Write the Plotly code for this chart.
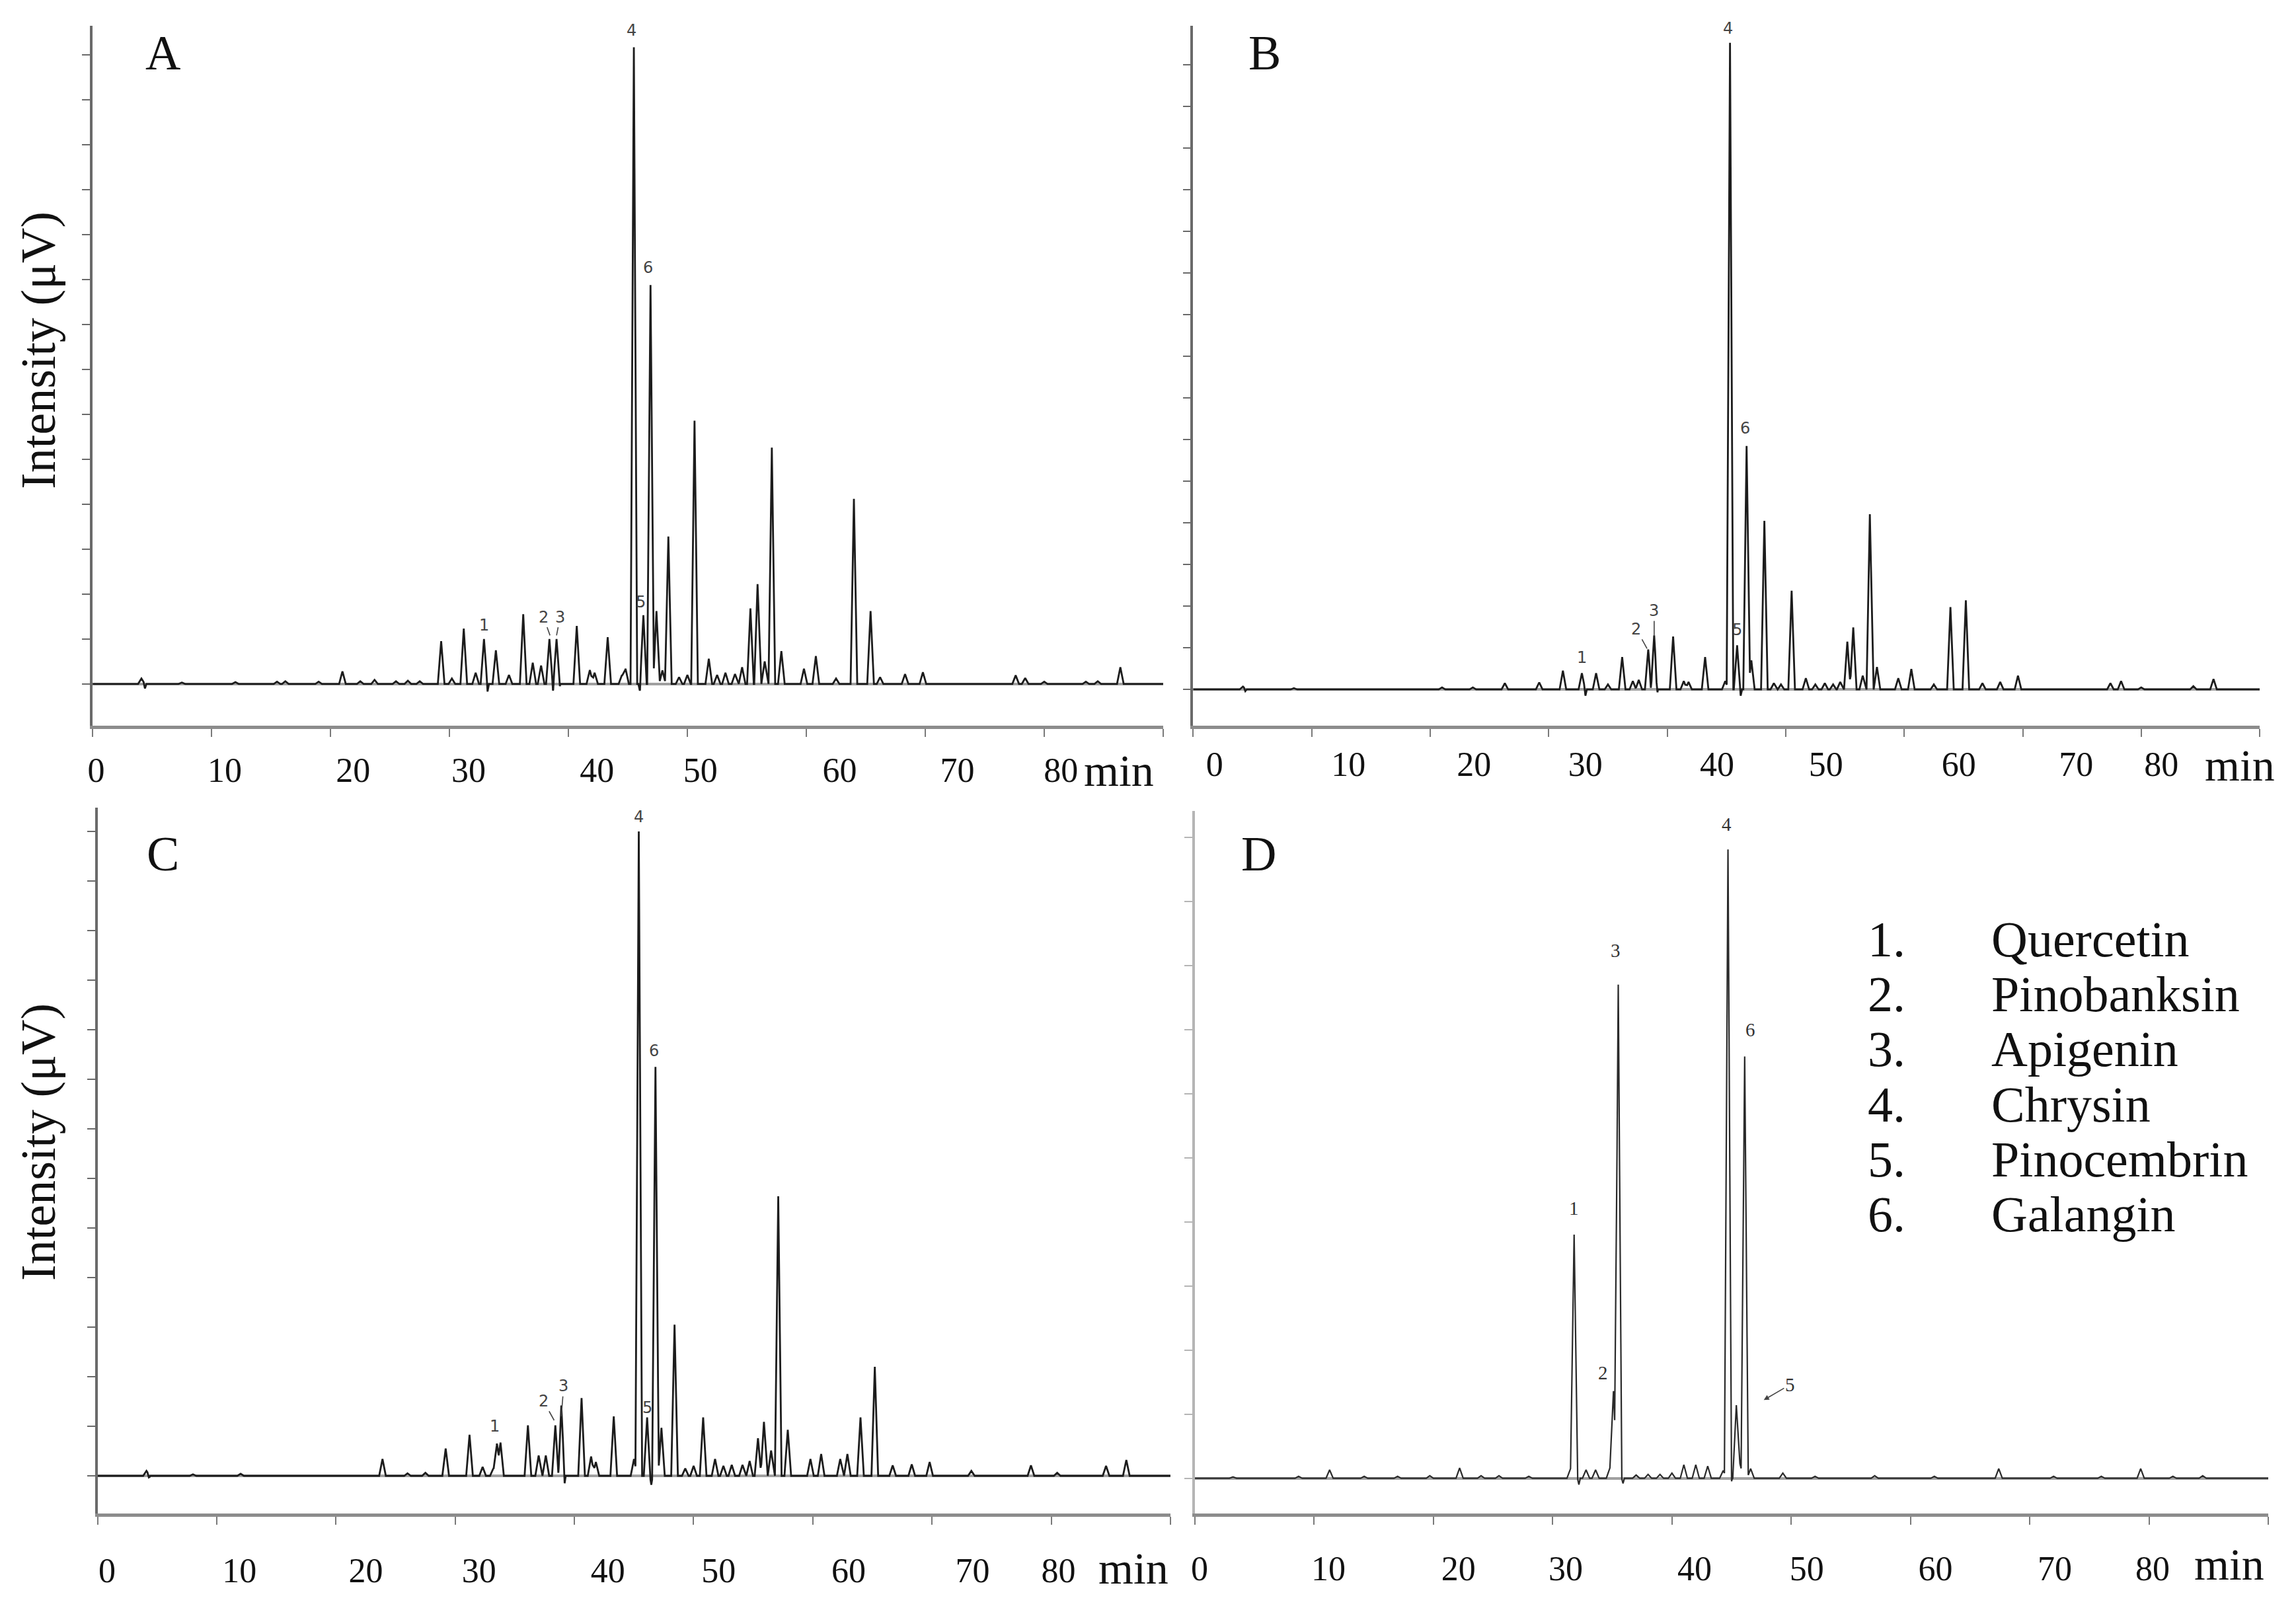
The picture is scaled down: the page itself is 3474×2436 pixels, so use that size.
import plotly.graph_objects as go

# ---------------- data (retention time in min along the drawn axis, intensity in axis-tick units) -------------
A_t = [4.1, 7.5, 12.0, 15.5, 16.2, 19.0, 21.0, 22.5, 23.7, 25.5,
       26.5, 27.5, 29.3, 30.2, 31.2, 32.2, 32.9, 33.9, 35.0, 36.2,
       37.0, 37.7, 38.4, 39.0, 40.7, 41.8, 42.2, 43.3, 44.5, 44.8,
       45.5, 46.3, 46.9, 47.4, 47.9, 48.4, 49.3, 50.0, 50.6, 51.8,
       52.5, 53.2, 54.0, 54.6, 55.3, 55.9, 56.5, 57.1, 57.9, 59.8,
       60.8, 62.5, 64.0, 65.4, 66.2, 68.3, 69.8, 77.6, 78.4, 80.0,
       83.5, 84.5, 86.4]
A_h = [0.12, 0.03, 0.04, 0.05, 0.06, 0.05, 0.28, 0.06, 0.09, 0.06,
       0.07, 0.06, 0.95, 0.12, 1.23, 0.25, 1.00, 0.75, 0.20, 1.55,
       0.47, 0.41, 1.00, 1.00, 1.29, 0.31, 0.25, 1.04, 0.20, 0.34,
       14.17, 1.53, 8.88, 1.62, 0.30, 3.28, 0.15, 0.20, 5.86, 0.56,
       0.20, 0.25, 0.22, 0.37, 1.68, 2.22, 0.50, 5.26, 0.73, 0.34,
       0.62, 0.12, 4.12, 1.62, 0.15, 0.22, 0.26, 0.19, 0.13, 0.05,
       0.05, 0.06, 0.37]
A_dip_t = [4.4, 33.2, 38.7, 39.2, 46.0]
A_dip_h = [-0.10, -0.17, -0.15, -0.15, -0.15]

B_t = [4.2, 8.5, 21.0, 23.6, 26.3, 29.2, 31.2, 32.8, 34.0, 35.0,
       36.2, 37.1, 37.6, 38.4, 38.9, 40.5, 41.4, 41.8, 43.2, 44.9,
       45.3, 45.9, 46.7, 47.1, 48.2, 49.0, 49.6, 50.5, 51.7, 52.5,
       53.3, 54.0, 54.6, 55.2, 55.7, 56.5, 57.1, 57.7, 59.5, 60.6,
       62.5, 63.9, 65.2, 66.6, 68.1, 69.6, 77.4, 78.3, 80.0, 84.4,
       86.1]
B_h = [0.07, 0.03, 0.05, 0.05, 0.15, 0.17, 0.45, 0.39, 0.39, 0.12,
       0.78, 0.20, 0.23, 0.96, 1.30, 1.27, 0.20, 0.18, 0.78, 0.20,
       15.53, 1.06, 5.85, 0.70, 4.05, 0.15, 0.12, 2.37, 0.27, 0.12,
       0.15, 0.12, 0.18, 1.15, 1.49, 0.33, 4.21, 0.54, 0.27, 0.49,
       0.12, 1.98, 2.14, 0.15, 0.18, 0.33, 0.15, 0.20, 0.05, 0.08,
       0.25]
B_dip_t = [4.4, 33.1, 38.6, 39.1, 46.2]
B_dip_h = [-0.06, -0.15, -0.20, -0.20, -0.15]

C_t = [4.1, 8.0, 12.0, 23.9, 26.0, 27.5, 29.2, 31.2, 32.3, 33.2,
       33.5, 33.8, 36.1, 37.0, 37.6, 38.4, 38.9, 40.6, 41.4, 41.8,
       43.3, 45.0, 45.4, 46.1, 46.8, 47.3, 48.4, 49.3, 50.0, 50.8,
       51.8, 52.5, 53.2, 54.1, 54.7, 55.4, 55.9, 56.5, 57.1, 57.9,
       59.8, 60.7, 62.3, 62.9, 64.0, 65.2, 66.7, 68.3, 69.8, 73.3,
       78.3, 80.5, 84.6, 86.3]
C_h = [0.10, 0.03, 0.04, 0.34, 0.05, 0.06, 0.55, 0.83, 0.18, 0.15,
       0.65, 0.67, 1.02, 0.41, 0.41, 1.02, 1.42, 1.57, 0.39, 0.28,
       1.20, 0.34, 13.00, 1.18, 8.25, 0.97, 3.05, 0.15, 0.20, 1.18,
       0.34, 0.20, 0.22, 0.22, 0.30, 0.76, 1.09, 0.51, 5.64, 0.93,
       0.34, 0.44, 0.34, 0.44, 1.18, 2.20, 0.21, 0.23, 0.28, 0.10,
       0.21, 0.06, 0.20, 0.32]
C_dip_t = [4.3, 33.65, 38.65, 39.15, 46.45]
C_dip_h = [-0.06, -0.20, -0.20, -0.20, -0.18]

D_t = [3.2, 8.7, 11.3, 14.2, 17.0, 19.7, 22.2, 24.0, 25.5, 28.0,
       31.5, 31.8, 32.8, 33.6, 34.8, 35.1, 35.5, 37.0, 38.0, 39.0,
       40.0, 41.0, 42.0, 43.0, 44.3, 44.7, 45.4, 45.7, 46.1, 46.6,
       49.3, 52.0, 57.0, 62.0, 67.4, 72.0, 76.0, 79.3, 82.0, 84.5]
D_h = [0.02, 0.03, 0.13, 0.03, 0.03, 0.04, 0.16, 0.04, 0.04, 0.03,
       0.15, 3.80, 0.13, 0.13, 0.16, 1.36, 7.70, 0.05, 0.06, 0.06,
       0.08, 0.21, 0.21, 0.19, 0.12, 9.81, 1.14, 0.23, 6.58, 0.15,
       0.08, 0.03, 0.04, 0.03, 0.15, 0.03, 0.03, 0.15, 0.03, 0.04]
D_dip_t = [32.2, 35.9, 44.95]
D_dip_h = [-0.10, -0.08, -0.08]

# x tick labels as printed on the figure (label centres, same time axis)
tick_text = ["0", "10", "20", "30", "40", "50", "60", "70", "80"]
A_lbl = [0.3, 11.1, 21.9, 31.6, 42.4, 51.1, 62.8, 72.7, 81.4]
B_lbl = [1.8, 13.1, 23.7, 33.1, 44.2, 53.4, 64.6, 74.5, 81.7]
C_lbl = [0.8, 11.9, 22.5, 32.0, 42.8, 52.1, 63.0, 73.4, 80.6]
D_lbl = [0.4, 11.2, 22.1, 31.1, 41.9, 51.3, 62.1, 72.1, 80.3]
min_pos = [86.3, 88.3, 86.9, 86.7]

# peak number labels
peak_names = ["1", "2", "3", "4", "5", "6"]
A_pk_x = [32.9, 37.9, 39.3, 45.3, 46.1, 46.7]
A_pk_y = [1.31, 1.49, 1.49, 14.54, 1.82, 9.26]
B_pk_x = [32.8, 37.4, 38.9, 45.1, 45.9, 46.6]
B_pk_y = [0.76, 1.45, 1.89, 15.88, 1.43, 6.28]
C_pk_x = [33.3, 37.4, 39.1, 45.4, 46.1, 46.7]
C_pk_y = [1.00, 1.51, 1.81, 13.29, 1.37, 8.58]
D_pk_x = [31.8, 34.2, 35.3, 44.6, 49.9, 46.6]
D_pk_y = [4.21, 1.65, 8.23, 10.20, 1.46, 7.00]
# leader-line tips: (panel, label index, x, y)
leaders = [(0, 1, 38.45, 1.08), (0, 2, 39.0, 1.08),
           (1, 1, 38.3, 0.98), (1, 2, 38.9, 1.30),
           (2, 1, 38.3, 1.12), (2, 2, 38.9, 1.20),
           (3, 4, 47.7, 1.22)]

legend_nums = ["1.", "2.", "3.", "4.", "5.", "6."]
compounds = ["Quercetin", "Pinobanksin", "Apigenin", "Chrysin", "Pinocembrin", "Galangin"]
panel_letters = ["A", "B", "C", "D"]
y_title = "Intensity (\u03bcV)"

# ---------------- layout geometry (pixels) ----------------
W, H = 3474, 2436
SERIF = "Liberation Serif, Times New Roman, serif"


def fx(p):
    return p / W


def fy(p):
    return 1 - p / H


panels = [
    dict(x0=132.5, x1=1756, y0=39, y1=1098, yr=[-0.93, 14.65], lab=A_lbl, tl=22, mo=68,
         t=A_t, h=A_h, dt=A_dip_t, dh=A_dip_h, px=A_pk_x, py=A_pk_y, ycol="#6a6a6a"),
    dict(x0=1801.5, x1=3419, y0=39, y1=1098, yr=[-0.87, 15.94], lab=B_lbl, tl=13, mo=60,
         t=B_t, h=B_h, dt=B_dip_t, dh=B_dip_h, px=B_pk_x, py=B_pk_y, ycol="#6a6a6a"),
    dict(x0=140, x1=1767, y0=1222, y1=2290, yr=[-0.76, 13.48], lab=C_lbl, tl=41, mo=83,
         t=C_t, h=C_h, dt=C_dip_t, dh=C_dip_h, px=C_pk_x, py=C_pk_y, ycol="#6a6a6a"),
    dict(x0=1804, x1=3432, y0=1227, y1=2290, yr=[-0.55, 10.41], lab=D_lbl, tl=38, mo=77,
         t=D_t, h=D_h, dt=D_dip_t, dh=D_dip_h, px=D_pk_x, py=D_pk_y, ycol="#b5b5b5"),
]


def chrom(times, heights, dts, dhs, w, wd, end=90.0):
    pts = {0.0, end}
    for t in times:
        pts |= {t - w, t, t + w}
    for t in dts:
        pts |= {t - wd, t, t + wd}
    xs = sorted(p for p in pts if 0.0 <= p <= end)
    ys = []
    for x in xs:
        v = 0.0
        for t, hh in zip(times, heights):
            v += hh * max(0.0, 1 - abs(x - t) / w)
        for t, hh in zip(dts, dhs):
            v += hh * max(0.0, 1 - abs(x - t) / wd)
        ys.append(v)
    return xs, ys


fig = go.Figure()
annotations = []
layout = dict(width=W, height=H, margin=dict(l=0, r=0, t=0, b=0),
              paper_bgcolor="white", plot_bgcolor="white", showlegend=False)

for i, p in enumerate(panels):
    n = i + 1
    xa = "x" if n == 1 else f"x{n}"
    ya = "y" if n == 1 else f"y{n}"
    xs, ys = chrom(p["t"], p["h"], p["dt"], p["dh"], 0.28 if n < 4 else 0.30, 0.12)
    fig.add_trace(go.Scatter(x=xs, y=ys, mode="lines", xaxis=xa, yaxis=ya,
                             line=dict(color="#1c1c1c" if n < 4 else "#2a2a2a",
                                       width=2.8 if n < 4 else 2.2),
                             hoverinfo="skip"))
    # label axis carrier
    lab_ax = f"x{n + 4}"
    fig.add_trace(go.Scatter(x=[], y=[], xaxis=lab_ax, yaxis=ya, hoverinfo="skip"))

    dom_x = [fx(p["x0"]), fx(p["x1"])]
    dom_y = [fy(p["y1"]), fy(p["y0"])]
    layout[f"xaxis{'' if n == 1 else n}"] = dict(
        domain=dom_x, anchor=ya, range=[0, 90], tickvals=list(range(0, 91, 10)),
        showticklabels=False, ticks="outside", ticklen=12, tickwidth=2, tickcolor="#7a7a7a",
        showline=True, linecolor="#8c8c8c", linewidth=5, showgrid=False, zeroline=False)
    layout[f"yaxis{'' if n == 1 else n}"] = dict(
        domain=dom_y, anchor=xa, range=p["yr"], tick0=0, dtick=1,
        showticklabels=False, ticks="outside", ticklen=12, tickwidth=2, tickcolor=p["ycol"],
        showline=True, linecolor=p["ycol"], linewidth=3.5, showgrid=False,
        zeroline=True, zerolinecolor="#a0a0a0", zerolinewidth=4)
    layout[f"xaxis{n + 4}"] = dict(
        overlaying=xa, anchor=ya, range=[0, 90], tickvals=p["lab"], ticktext=tick_text,
        ticks="outside", ticklen=p["tl"], tickcolor="rgba(0,0,0,0)", showline=False,
        showgrid=False, zeroline=False, tickfont=dict(family=SERIF, size=52, color="#111"))

    # "min" unit label
    annotations.append(dict(x=min_pos[i], xref=xa, y=fy(p["y1"] + p["mo"]),
                            yref="paper", text="min", showarrow=False, xanchor="center",
                            yanchor="middle", font=dict(family=SERIF, size=68, color="#111")))
    # peak labels
    pk_font = dict(family="DejaVu Sans, sans-serif", size=24, color="#444") if n < 4 else \
        dict(family=SERIF, size=29, color="#333")
    lead = {j: (tx, ty) for (pi, j, tx, ty) in leaders if pi == i}
    for j, name in enumerate(peak_names):
        if j in lead:
            tx, ty = lead[j]
            annotations.append(dict(x=tx, y=ty, xref=xa, yref=ya, ax=p["px"][j], ay=p["py"][j],
                                    axref=xa, ayref=ya, text=name, showarrow=True,
                                    arrowhead=2 if n == 4 else 0, arrowsize=1, arrowwidth=1.6,
                                    arrowcolor="#444", standoff=0, font=pk_font))
        else:
            annotations.append(dict(x=p["px"][j], y=p["py"][j], xref=xa, yref=ya, text=name,
                                    xanchor="center", yanchor="middle",
                                    showarrow=False, font=pk_font))

# panel letters
letter_pos = [(239, 80), (1910, 80), (239, 1292), (1901, 1292)]
for L, (lx, ly) in zip(panel_letters, letter_pos):
    annotations.append(dict(x=fx(lx), y=fy(ly), xref="paper", yref="paper", text=L,
                            xanchor="center", yanchor="middle",
                            showarrow=False, font=dict(family=SERIF, size=74, color="#111")))

# y titles
for ty in (530, 1728):
    annotations.append(dict(x=fx(50), y=fy(ty), xref="paper", yref="paper", text=y_title,
                            textangle=-90, showarrow=False, xanchor="center", yanchor="middle",
                            font=dict(family=SERIF, size=74, color="#111")))

# compound key in panel D
for k, (num, name) in enumerate(zip(legend_nums, compounds)):
    yy = fy(1421 + 83.2 * k)
    annotations.append(dict(x=fx(2823), y=yy, xref="paper", yref="paper", text=num,
                            xanchor="left", yanchor="middle", showarrow=False,
                            font=dict(family=SERIF, size=76, color="#111")))
    annotations.append(dict(x=fx(3010), y=yy, xref="paper", yref="paper", text=name,
                            xanchor="left", yanchor="middle", showarrow=False,
                            font=dict(family=SERIF, size=76, color="#111")))

layout["annotations"] = annotations
fig.update_layout(**layout)
fig.write_html("out.html", config={"displayModeBar": False},
               post_script="document.body.style.margin='0';")
